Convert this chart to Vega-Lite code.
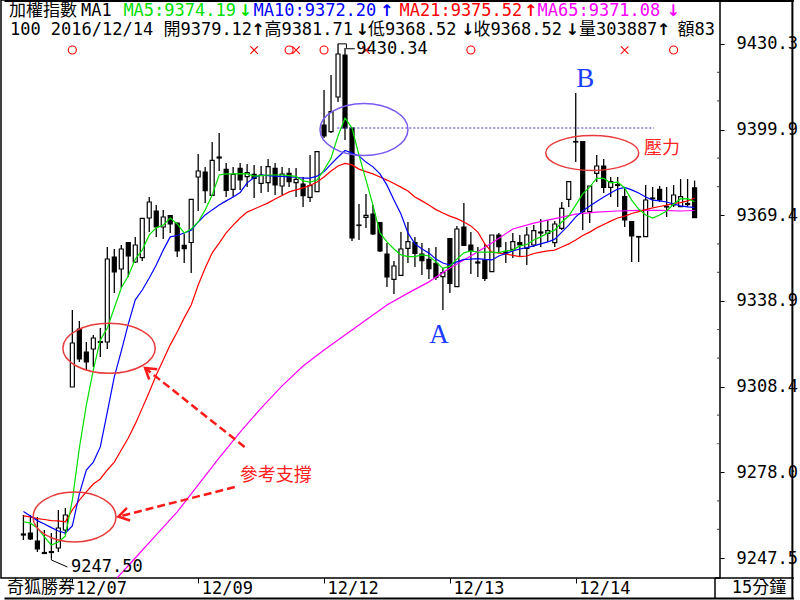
{
  "$schema": "https://vega.github.io/schema/vega-lite/v6.json",
  "width": 719,
  "height": 578,
  "autosize": {"type": "none"},
  "padding": {"left": 1, "top": 0, "right": 80, "bottom": 22},
  "background": "white",
  "config": {"view": {"stroke": "black", "strokeWidth": 1.5}, "axis": {"grid": false}},
  "datasets": {
    "ohlc": [
      {"i":0,"o":9256.03,"h":9262.79,"l":9253.90,"c":9255.68},
      {"i":1,"o":9256.39,"h":9262.79,"l":9253.90,"c":9254.26},
      {"i":2,"o":9253.55,"h":9262.08,"l":9249.63,"c":9250.70},
      {"i":3,"o":9249.46,"h":9257.46,"l":9248.92,"c":9249.10},
      {"i":4,"o":9249.81,"h":9256.39,"l":9247.50,"c":9249.46},
      {"i":5,"o":9251.06,"h":9264.57,"l":9249.63,"c":9258.17},
      {"i":6,"o":9257.46,"h":9265.28,"l":9255.68,"c":9262.79},
      {"i":7,"o":9308.31,"h":9335.69,"l":9308.31,"c":9323.96},
      {"i":8,"o":9328.94,"h":9331.78,"l":9317.20,"c":9318.27},
      {"i":9,"o":9320.76,"h":9324.31,"l":9314.36,"c":9317.20},
      {"i":10,"o":9321.82,"h":9326.80,"l":9315.42,"c":9325.74},
      {"i":11,"o":9324.49,"h":9329.29,"l":9318.98,"c":9324.14},
      {"i":12,"o":9324.31,"h":9358.10,"l":9321.82,"c":9353.83},
      {"i":13,"o":9354.54,"h":9357.39,"l":9341.74,"c":9349.21},
      {"i":14,"o":9350.27,"h":9358.81,"l":9343.52,"c":9357.39},
      {"i":15,"o":9359.70,"h":9359.88,"l":9347.43,"c":9354.90},
      {"i":16,"o":9352.76,"h":9361.65,"l":9352.41,"c":9358.81},
      {"i":17,"o":9354.29,"h":9368.41,"l":9353.12,"c":9368.30},
      {"i":18,"o":9368.41,"h":9375.88,"l":9363.43,"c":9374.10},
      {"i":19,"o":9370.90,"h":9373.03,"l":9361.65,"c":9365.21},
      {"i":20,"o":9365.21,"h":9371.26,"l":9360.94,"c":9368.77},
      {"i":21,"o":9369.30,"h":9369.48,"l":9363.08,"c":9366.28},
      {"i":22,"o":9366.63,"h":9366.74,"l":9354.54,"c":9356.68},
      {"i":23,"o":9358.70,"h":9362.72,"l":9352.41,"c":9357.50},
      {"i":24,"o":9359.70,"h":9375.17,"l":9348.85,"c":9375.06},
      {"i":25,"o":9382.99,"h":9391.17,"l":9370.90,"c":9385.12},
      {"i":26,"o":9384.77,"h":9386.55,"l":9373.75,"c":9378.12},
      {"i":27,"o":9376.48,"h":9395.44,"l":9376.41,"c":9388.93},
      {"i":28,"o":9390.10,"h":9398.64,"l":9385.12,"c":9389.75},
      {"i":29,"o":9385.73,"h":9387.97,"l":9375.88,"c":9378.26},
      {"i":30,"o":9378.62,"h":9386.55,"l":9375.88,"c":9383.95},
      {"i":31,"o":9386.09,"h":9387.97,"l":9378.37,"c":9381.92},
      {"i":32,"o":9383.10,"h":9387.61,"l":9379.44,"c":9384.52},
      {"i":33,"o":9383.95,"h":9387.26,"l":9375.52,"c":9382.53},
      {"i":34,"o":9380.75,"h":9386.90,"l":9377.30,"c":9383.70},
      {"i":35,"o":9380.96,"h":9389.39,"l":9377.66,"c":9386.65},
      {"i":36,"o":9386.09,"h":9387.97,"l":9376.59,"c":9380.15},
      {"i":37,"o":9379.79,"h":9386.55,"l":9376.59,"c":9384.06},
      {"i":38,"o":9384.31,"h":9386.19,"l":9379.44,"c":9381.32},
      {"i":39,"o":9380.96,"h":9386.19,"l":9375.88,"c":9382.17},
      {"i":40,"o":9380.50,"h":9382.99,"l":9372.32,"c":9376.34},
      {"i":41,"o":9375.77,"h":9390.81,"l":9374.10,"c":9379.90},
      {"i":42,"o":9377.76,"h":9391.99,"l":9377.66,"c":9391.99},
      {"i":43,"o":9401.48,"h":9413.93,"l":9396.86,"c":9397.57},
      {"i":44,"o":9399.10,"h":9419.26,"l":9398.64,"c":9406.21},
      {"i":45,"o":9411.44,"h":9430.34,"l":9409.66,"c":9426.73},
      {"i":46,"o":9426.38,"h":9428.87,"l":9396.15,"c":9400.42},
      {"i":47,"o":9400.42,"h":9400.42,"l":9360.23,"c":9361.30},
      {"i":48,"o":9365.92,"h":9373.39,"l":9360.59,"c":9365.74},
      {"i":49,"o":9368.66,"h":9376.95,"l":9364.85,"c":9369.37},
      {"i":50,"o":9369.83,"h":9373.03,"l":9362.37,"c":9362.72},
      {"i":51,"o":9366.81,"h":9366.99,"l":9356.32,"c":9356.68},
      {"i":52,"o":9355.61,"h":9359.52,"l":9343.87,"c":9347.43},
      {"i":53,"o":9346.61,"h":9353.12,"l":9341.38,"c":9351.34},
      {"i":54,"o":9348.03,"h":9363.43,"l":9347.96,"c":9357.39},
      {"i":55,"o":9357.64,"h":9366.99,"l":9352.41,"c":9359.98},
      {"i":56,"o":9359.63,"h":9361.65,"l":9350.99,"c":9355.86},
      {"i":57,"o":9355.61,"h":9359.52,"l":9348.14,"c":9353.23},
      {"i":58,"o":9353.72,"h":9357.74,"l":9346.72,"c":9350.38},
      {"i":59,"o":9352.30,"h":9358.10,"l":9346.36,"c":9347.32},
      {"i":60,"o":9347.54,"h":9350.63,"l":9335.69,"c":9348.96},
      {"i":61,"o":9361.12,"h":9361.30,"l":9341.74,"c":9345.19},
      {"i":62,"o":9343.98,"h":9365.57,"l":9343.87,"c":9364.50},
      {"i":63,"o":9365.21,"h":9373.75,"l":9358.45,"c":9358.63},
      {"i":64,"o":9358.81,"h":9363.43,"l":9348.50,"c":9356.78},
      {"i":65,"o":9352.76,"h":9358.10,"l":9347.43,"c":9352.41},
      {"i":66,"o":9353.47,"h":9359.16,"l":9346.01,"c":9346.97},
      {"i":67,"o":9349.31,"h":9362.37,"l":9349.21,"c":9362.37},
      {"i":68,"o":9362.37,"h":9363.08,"l":9355.96,"c":9358.21},
      {"i":69,"o":9356.32,"h":9359.88,"l":9352.41,"c":9355.96},
      {"i":70,"o":9357.28,"h":9363.08,"l":9354.19,"c":9359.98},
      {"i":71,"o":9359.63,"h":9362.37,"l":9354.54,"c":9358.81},
      {"i":72,"o":9357.64,"h":9365.21,"l":9351.70,"c":9362.37},
      {"i":73,"o":9358.81,"h":9365.92,"l":9358.10,"c":9363.89},
      {"i":74,"o":9363.43,"h":9368.06,"l":9358.10,"c":9363.08},
      {"i":75,"o":9362.97,"h":9367.70,"l":9359.88,"c":9363.89},
      {"i":76,"o":9359.63,"h":9367.34,"l":9358.10,"c":9366.28},
      {"i":77,"o":9364.75,"h":9374.10,"l":9364.14,"c":9371.86},
      {"i":78,"o":9375.06,"h":9381.50,"l":9372.32,"c":9381.32},
      {"i":79,"o":9395.62,"h":9412.86,"l":9388.33,"c":9395.44},
      {"i":80,"o":9395.54,"h":9395.62,"l":9364.14,"c":9370.65},
      {"i":81,"o":9370.65,"h":9379.79,"l":9366.63,"c":9379.79},
      {"i":82,"o":9384.31,"h":9390.81,"l":9381.21,"c":9386.90},
      {"i":83,"o":9386.90,"h":9389.39,"l":9377.30,"c":9379.33},
      {"i":84,"o":9379.33,"h":9382.99,"l":9375.88,"c":9381.32},
      {"i":85,"o":9380.32,"h":9382.99,"l":9372.32,"c":9379.97},
      {"i":86,"o":9375.99,"h":9379.44,"l":9365.21,"c":9367.70},
      {"i":87,"o":9367.10,"h":9367.20,"l":9352.76,"c":9362.01},
      {"i":88,"o":9361.83,"h":9361.90,"l":9352.76,"c":9361.65},
      {"i":89,"o":9361.76,"h":9380.15,"l":9361.65,"c":9374.81},
      {"i":90,"o":9375.52,"h":9379.44,"l":9372.32,"c":9375.27},
      {"i":91,"o":9378.62,"h":9379.79,"l":9374.10,"c":9374.81},
      {"i":92,"o":9372.57,"h":9379.44,"l":9368.77,"c":9372.32},
      {"i":93,"o":9373.03,"h":9380.15,"l":9372.32,"c":9376.59},
      {"i":94,"o":9372.43,"h":9382.28,"l":9372.32,"c":9375.99},
      {"i":95,"o":9373.57,"h":9382.28,"l":9372.32,"c":9373.21},
      {"i":96,"o":9379.12,"h":9381.71,"l":9368.52,"c":9368.52}
    ],
    "ma": [
      {"i":0,"ma5":9260.4,"ma10":9264.0,"ma21":9262.5},
      {"i":1,"ma5":9259.9,"ma10":9262.4,"ma21":9262.1},
      {"i":2,"ma5":9258.2,"ma10":9260.8,"ma21":9261.5},
      {"i":3,"ma5":9255.0,"ma10":9259.6,"ma21":9261.2},
      {"i":4,"ma5":9252.1,"ma10":9258.3,"ma21":9260.8},
      {"i":5,"ma5":9253.2,"ma10":9257.1,"ma21":9260.7},
      {"i":6,"ma5":9255.3,"ma10":9256.4,"ma21":9260.4},
      {"i":7,"ma5":9268.1,"ma10":9258.9,"ma21":9264.6},
      {"i":8,"ma5":9286.6,"ma10":9270.3,"ma21":9268.1},
      {"i":9,"ma5":9301.9,"ma10":9278.8,"ma21":9271.0},
      {"i":10,"ma5":9314.4,"ma10":9281.6,"ma21":9273.8},
      {"i":11,"ma5":9325.0,"ma10":9287.0,"ma21":9275.6},
      {"i":12,"ma5":9329.3,"ma10":9299.4,"ma21":9278.8},
      {"i":13,"ma5":9336.4,"ma10":9311.9,"ma21":9281.6},
      {"i":14,"ma5":9343.5,"ma10":9321.1,"ma21":9285.9},
      {"i":15,"ma5":9347.8,"ma10":9330.7,"ma21":9290.2},
      {"i":16,"ma5":9353.8,"ma10":9339.3,"ma21":9295.2},
      {"i":17,"ma5":9357.0,"ma10":9342.8,"ma21":9300.8},
      {"i":18,"ma5":9362.4,"ma10":9347.1,"ma21":9306.5},
      {"i":19,"ma5":9364.9,"ma10":9351.7,"ma21":9312.6},
      {"i":20,"ma5":9365.9,"ma10":9357.0,"ma21":9317.9},
      {"i":21,"ma5":9368.4,"ma10":9361.7,"ma21":9323.3},
      {"i":22,"ma5":9366.3,"ma10":9362.2,"ma21":9327.9},
      {"i":23,"ma5":9363.1,"ma10":9363.1,"ma21":9332.9},
      {"i":24,"ma5":9364.5,"ma10":9364.1,"ma21":9337.5},
      {"i":25,"ma5":9367.0,"ma10":9367.0,"ma21":9344.6},
      {"i":26,"ma5":9371.3,"ma10":9369.5,"ma21":9350.6},
      {"i":27,"ma5":9376.6,"ma10":9371.3,"ma21":9356.0},
      {"i":28,"ma5":9383.7,"ma10":9373.0,"ma21":9359.5},
      {"i":29,"ma5":9384.1,"ma10":9374.5,"ma21":9363.1},
      {"i":30,"ma5":9384.1,"ma10":9375.9,"ma21":9365.9},
      {"i":31,"ma5":9384.2,"ma10":9377.5,"ma21":9368.4},
      {"i":32,"ma5":9384.1,"ma10":9380.9,"ma21":9370.5},
      {"i":33,"ma5":9383.3,"ma10":9382.8,"ma21":9371.6},
      {"i":34,"ma5":9383.5,"ma10":9383.7,"ma21":9372.7},
      {"i":35,"ma5":9383.7,"ma10":9383.5,"ma21":9373.8},
      {"i":36,"ma5":9383.7,"ma10":9383.3,"ma21":9375.2},
      {"i":37,"ma5":9383.7,"ma10":9383.2,"ma21":9376.4},
      {"i":38,"ma5":9383.5,"ma10":9383.0,"ma21":9377.7},
      {"i":39,"ma5":9383.2,"ma10":9382.9,"ma21":9378.4},
      {"i":40,"ma5":9381.6,"ma10":9382.6,"ma21":9379.1},
      {"i":41,"ma5":9381.2,"ma10":9382.6,"ma21":9380.0},
      {"i":42,"ma5":9381.9,"ma10":9383.3,"ma21":9381.2},
      {"i":43,"ma5":9385.5,"ma10":9384.9,"ma21":9383.0},
      {"i":44,"ma5":9389.7,"ma10":9387.6,"ma21":9385.1},
      {"i":45,"ma5":9397.6,"ma10":9390.1,"ma21":9386.9},
      {"i":46,"ma5":9404.0,"ma10":9392.4,"ma21":9387.8},
      {"i":47,"ma5":9400.4,"ma10":9391.5,"ma21":9387.3},
      {"i":48,"ma5":9390.8,"ma10":9390.5,"ma21":9385.8},
      {"i":49,"ma5":9381.9,"ma10":9388.3,"ma21":9384.9},
      {"i":50,"ma5":9373.0,"ma10":9386.6,"ma21":9384.1},
      {"i":51,"ma5":9363.1,"ma10":9384.1,"ma21":9383.0},
      {"i":52,"ma5":9359.9,"ma10":9380.1,"ma21":9381.9},
      {"i":53,"ma5":9357.4,"ma10":9374.8,"ma21":9380.7},
      {"i":54,"ma5":9355.3,"ma10":9369.8,"ma21":9379.4},
      {"i":55,"ma5":9354.7,"ma10":9363.1,"ma21":9378.0},
      {"i":56,"ma5":9354.7,"ma10":9359.2,"ma21":9375.9},
      {"i":57,"ma5":9355.3,"ma10":9357.4,"ma21":9374.5},
      {"i":58,"ma5":9354.9,"ma10":9356.0,"ma21":9373.0},
      {"i":59,"ma5":9352.8,"ma10":9353.8,"ma21":9371.4},
      {"i":60,"ma5":9350.5,"ma10":9352.4,"ma21":9370.2},
      {"i":61,"ma5":9351.3,"ma10":9351.7,"ma21":9369.1},
      {"i":62,"ma5":9353.8,"ma10":9352.8,"ma21":9368.2},
      {"i":63,"ma5":9356.0,"ma10":9353.7,"ma21":9367.0},
      {"i":64,"ma5":9356.7,"ma10":9353.8,"ma21":9365.6},
      {"i":65,"ma5":9356.3,"ma10":9354.0,"ma21":9363.4},
      {"i":66,"ma5":9356.3,"ma10":9353.7,"ma21":9359.2},
      {"i":67,"ma5":9356.3,"ma10":9353.5,"ma21":9356.3},
      {"i":68,"ma5":9356.1,"ma10":9354.9,"ma21":9355.9},
      {"i":69,"ma5":9356.7,"ma10":9355.8,"ma21":9355.6},
      {"i":70,"ma5":9357.0,"ma10":9356.7,"ma21":9355.1},
      {"i":71,"ma5":9358.5,"ma10":9357.4,"ma21":9354.7},
      {"i":72,"ma5":9359.0,"ma10":9357.9,"ma21":9354.9},
      {"i":73,"ma5":9360.6,"ma10":9358.5,"ma21":9355.8},
      {"i":74,"ma5":9361.7,"ma10":9359.2,"ma21":9356.3},
      {"i":75,"ma5":9363.1,"ma10":9359.9,"ma21":9356.7},
      {"i":76,"ma5":9364.1,"ma10":9360.9,"ma21":9357.0},
      {"i":77,"ma5":9367.0,"ma10":9363.4,"ma21":9358.1},
      {"i":78,"ma5":9369.1,"ma10":9365.9,"ma21":9359.2},
      {"i":79,"ma5":9373.0,"ma10":9368.8,"ma21":9360.6},
      {"i":80,"ma5":9377.0,"ma10":9370.9,"ma21":9362.2},
      {"i":81,"ma5":9379.4,"ma10":9372.7,"ma21":9363.4},
      {"i":82,"ma5":9382.6,"ma10":9374.3,"ma21":9364.9},
      {"i":83,"ma5":9382.5,"ma10":9375.9,"ma21":9366.1},
      {"i":84,"ma5":9380.9,"ma10":9377.3,"ma21":9367.3},
      {"i":85,"ma5":9381.2,"ma10":9378.7,"ma21":9368.4},
      {"i":86,"ma5":9379.1,"ma10":9379.3,"ma21":9369.1},
      {"i":87,"ma5":9374.8,"ma10":9378.4,"ma21":9370.0},
      {"i":88,"ma5":9371.6,"ma10":9377.3,"ma21":9370.7},
      {"i":89,"ma5":9369.5,"ma10":9375.9,"ma21":9371.4},
      {"i":90,"ma5":9368.4,"ma10":9374.8,"ma21":9372.0},
      {"i":91,"ma5":9369.5,"ma10":9374.5,"ma21":9372.5},
      {"i":92,"ma5":9370.9,"ma10":9374.1,"ma21":9373.0},
      {"i":93,"ma5":9373.4,"ma10":9373.4,"ma21":9373.6},
      {"i":94,"ma5":9375.2,"ma10":9372.7,"ma21":9373.9},
      {"i":95,"ma5":9375.3,"ma10":9372.4,"ma21":9374.5},
      {"i":96,"ma5":9374.19,"ma10":9372.20,"ma21":9375.52}
    ],
    "ma65": [
      {"i":10,"v":9229.0},{"i":13,"v":9239.3},{"i":16,"v":9247.5},{"i":19,"v":9255.7},
      {"i":22,"v":9263.9},{"i":25,"v":9273.5},{"i":28,"v":9283.1},{"i":31,"v":9292.3},
      {"i":34,"v":9300.8},{"i":37,"v":9308.7},{"i":40,"v":9315.8},{"i":43,"v":9321.5},
      {"i":46,"v":9326.8},{"i":49,"v":9332.1},{"i":52,"v":9337.5},{"i":55,"v":9341.7},
      {"i":58,"v":9345.7},{"i":61,"v":9350.6},{"i":64,"v":9354.9},{"i":67,"v":9359.5},
      {"i":70,"v":9364.5},{"i":73,"v":9366.6},{"i":76,"v":9368.2},{"i":79,"v":9369.8},
      {"i":82,"v":9370.5},{"i":85,"v":9370.9},{"i":88,"v":9371.1},{"i":91,"v":9371.1},
      {"i":94,"v":9370.9},{"i":96,"v":9371.08}
    ],
    "hdr": [
      {"t":"加權指數","i":-2.07,"p":9442.03,"s":"txt"},
      {"t":"MA1","i":8.23,"p":9442.03,"s":"txt"},
      {"t":"MA5:9374.19","i":14.30,"p":9442.03,"s":"ma5"},
      {"t":"MA10:9372.20","i":32.91,"p":9442.03,"s":"ma10"},
      {"t":"MA21:9375.52","i":53.79,"p":9442.03,"s":"ma21"},
      {"t":"MA65:9371.08","i":73.53,"p":9442.03,"s":"ma65"},
      {"t":"100 2016/12/14 開9379.12","i":-1.93,"p":9435.27,"s":"txt"},
      {"t":"高9381.71","i":34.47,"p":9435.27,"s":"txt"},
      {"t":"低9368.52","i":49.27,"p":9435.27,"s":"txt"},
      {"t":"收9368.52","i":64.36,"p":9435.27,"s":"txt"},
      {"t":"量303887","i":79.46,"p":9435.27,"s":"txt"},
      {"t":"額83","i":93.56,"p":9435.27,"s":"txt"},
      {"t":"9430.34","i":47.6,"p":9428.6,"s":"txt"},
      {"t":"9247.50","i":6.82,"p":9244.41,"s":"txt"},
      {"t":"奇狐勝券","i":-2.35,"p":9236.8,"s":"txt"},
      {"t":"15分鐘","i":101.32,"p":9236.8,"s":"txt"}
    ],
    "hdrArrows": [
      {"t":"↓","i":30.75,"p":9442.03,"s":"ma5"},
      {"t":"↑","i":51.0,"p":9442.03,"s":"ma10"},
      {"t":"↑","i":71.6,"p":9442.03,"s":"ma21"},
      {"t":"↓","i":92.0,"p":9442.03,"s":"ma65"},
      {"t":"↑","i":32.6,"p":9435.27,"s":"txt"},
      {"t":"↓","i":47.5,"p":9435.27,"s":"txt"},
      {"t":"↓","i":62.6,"p":9435.27,"s":"txt"},
      {"t":"↓","i":77.55,"p":9435.27,"s":"txt"},
      {"t":"↑","i":90.6,"p":9435.27,"s":"txt"}
    ],
    "signals": [
      {"i":7,"k":"o"},{"i":33,"k":"x"},{"i":38,"k":"o"},{"i":39,"k":"x"},{"i":43,"k":"o"},
      {"i":49,"k":"x"},{"i":64,"k":"o"},{"i":86,"k":"x"},{"i":93,"k":"o"}
    ],
    "leaders": [
      {"g":"hi","n":1,"i":45,"p":9430.34},
      {"g":"hi","n":2,"i":46.2,"p":9430.34},
      {"g":"hi","n":3,"i":46.2,"p":9428.6},
      {"g":"hi","n":4,"i":47.4,"p":9428.6},
      {"g":"lo","n":1,"i":4,"p":9247.5},
      {"g":"lo","n":2,"i":4,"p":9246.79},
      {"g":"lo","n":3,"i":6.3,"p":9244.3}
    ],
    "arrows": [
      {"i":31.64,"p":9286.97,"i2":17.40,"p2":9315.07},
      {"i":30.23,"p":9272.75,"i2":13.59,"p2":9262.19}
    ],
    "minor": [
      {"p":9257.66},{"p":9267.82},{"p":9288.13},{"p":9298.29},{"p":9318.60},{"p":9328.76},
      {"p":9349.08},{"p":9359.24},{"p":9379.55},{"p":9389.71},{"p":9410.03},{"p":9420.18}
    ]
  },
  "layer": [
    {
      "data": {"name": "ohlc"},
      "mark": {"type": "rule", "color": "black", "strokeWidth": 1.3},
      "encoding": {
        "x": {"field": "i", "type": "quantitative",
          "scale": {"domain": [-2.49, 98.92], "nice": false, "zero": false},
          "axis": {"orient": "bottom", "title": null, "values": [7, 25, 43, 61, 79],
            "labelExpr": "datum.value == 7 ? '12/07' : datum.value == 25 ? '12/09' : datum.value == 43 ? '12/12' : datum.value == 61 ? '12/13' : '12/14'",
            "domain": false, "ticks": true, "tickSize": 5, "tickColor": "black", "tickWidth": 1,
            "labelFont": "DejaVu Sans Mono", "labelFontSize": 17, "labelColor": "black",
            "labelAlign": "left", "labelBaseline": "alphabetic", "labelPadding": 10, "labelOffset": 3,
            "labelFlush": false, "labelOverlap": false, "grid": false}},
        "y": {"field": "l", "type": "quantitative",
          "scale": {"domain": [9240.39, 9445.94], "nice": false, "zero": false},
          "axis": {"orient": "right", "title": null,
            "values": [9247.5, 9277.97, 9308.44, 9338.92, 9369.39, 9399.87, 9430.34],
            "format": ".1f", "domain": false, "tickSize": 4, "tickColor": "black", "tickWidth": 1,
            "labelFont": "DejaVu Sans Mono", "labelFontSize": 17, "labelColor": "black",
            "labelPadding": 12, "labelBaseline": "middle", "labelFlush": false, "labelOverlap": false, "grid": false}},
        "y2": {"field": "h"}
      }
    },
    {
      "data": {"name": "ohlc"},
      "mark": {"type": "bar", "size": 4, "stroke": "black", "strokeWidth": 1.2},
      "encoding": {
        "x": {"field": "i", "type": "quantitative"},
        "y": {"field": "o", "type": "quantitative"},
        "y2": {"field": "c"},
        "fill": {"condition": {"test": "datum.c >= datum.o", "value": "white"}, "value": "black"}
      }
    },
    {
      "data": {"name": "ma65"},
      "mark": {"type": "line", "color": "#ff00ff", "strokeWidth": 1.2, "clip": true},
      "encoding": {"x": {"field": "i", "type": "quantitative"}, "y": {"field": "v", "type": "quantitative"}}
    },
    {
      "data": {"name": "ma"},
      "mark": {"type": "line", "color": "#ff0000", "strokeWidth": 1.2, "clip": true},
      "encoding": {"x": {"field": "i", "type": "quantitative"}, "y": {"field": "ma21", "type": "quantitative"}}
    },
    {
      "data": {"name": "ma"},
      "mark": {"type": "line", "color": "#0000ff", "strokeWidth": 1.2, "clip": true},
      "encoding": {"x": {"field": "i", "type": "quantitative"}, "y": {"field": "ma10", "type": "quantitative"}}
    },
    {
      "data": {"name": "ma"},
      "mark": {"type": "line", "color": "#00e000", "strokeWidth": 1.2, "clip": true},
      "encoding": {"x": {"field": "i", "type": "quantitative"}, "y": {"field": "ma5", "type": "quantitative"}}
    },
    {
      "data": {"values": [{"a": 1}]},
      "mark": {"type": "rule", "color": "#3a2cc8", "strokeWidth": 1, "strokeDash": [2, 2]},
      "encoding": {"x": {"datum": 44.9}, "x2": {"datum": 90.2}, "y": {"datum": 9400.42}}
    },
    {
      "data": {"values": [{"a": 1}]},
      "mark": {"type": "point", "shape": "M-1,0C-1,-0.326,-0.552,-0.591,0,-0.591C0.552,-0.591,1,-0.326,1,0C1,0.326,0.552,0.591,0,0.591C-0.552,0.591,-1,0.326,-1,0Z", "size": 7744, "filled": false, "stroke": "#7a5af0", "strokeWidth": 1.5, "opacity": 1},
      "encoding": {"x": {"datum": 48.71}, "y": {"datum": 9399.88}}
    },
    {
      "data": {"values": [{"a": 1}]},
      "mark": {"type": "point", "shape": "M-1,0C-1,-0.208,-0.552,-0.376,0,-0.376C0.552,-0.376,1,-0.208,1,0C1,0.208,0.552,0.376,0,0.376C-0.552,0.376,-1,0.208,-1,0Z", "size": 8649, "filled": false, "stroke": "#e83a3a", "strokeWidth": 1.5, "opacity": 1},
      "encoding": {"x": {"datum": 81.36}, "y": {"datum": 9391.53}}
    },
    {
      "data": {"values": [{"a": 1}]},
      "mark": {"type": "point", "shape": "M-1,0C-1,-0.332,-0.552,-0.602,0,-0.602C0.552,-0.602,1,-0.332,1,0C1,0.332,0.552,0.602,0,0.602C-0.552,0.602,-1,0.332,-1,0Z", "size": 6889, "filled": false, "stroke": "#e83a3a", "strokeWidth": 1.5, "opacity": 1},
      "encoding": {"x": {"datum": 7.31}, "y": {"datum": 9262.08}}
    },
    {
      "data": {"values": [{"a": 1}]},
      "mark": {"type": "point", "shape": "M-1,0C-1,-0.299,-0.552,-0.541,0,-0.541C0.552,-0.541,1,-0.299,1,0C1,0.299,0.552,0.541,0,0.541C-0.552,0.541,-1,0.299,-1,0Z", "size": 8538, "filled": false, "stroke": "#e83a3a", "strokeWidth": 1.5, "opacity": 1},
      "encoding": {"x": {"datum": 12.25}, "y": {"datum": 9322.07}}
    },
    {
      "data": {"name": "arrows"},
      "mark": {"type": "rule", "color": "#ff1a1a", "strokeWidth": 2.5, "strokeDash": [8, 4]},
      "encoding": {
        "x": {"field": "i", "type": "quantitative"}, "y": {"field": "p", "type": "quantitative"},
        "x2": {"field": "i2"}, "y2": {"field": "p2"}
      }
    },
    {
      "data": {"values": [{"a": 1}]},
      "mark": {"type": "point", "shape": "M1.6,-1L0,0L1.6,1", "size": 169, "filled": false, "stroke": "#ff1a1a", "strokeWidth": 2.5, "angle": 38, "opacity": 1},
      "encoding": {"x": {"datum": 17.40}, "y": {"datum": 9315.07}}
    },
    {
      "data": {"values": [{"a": 1}]},
      "mark": {"type": "point", "shape": "M1.6,-1L0,0L1.6,1", "size": 169, "filled": false, "stroke": "#ff1a1a", "strokeWidth": 2.5, "angle": 346, "opacity": 1},
      "encoding": {"x": {"datum": 13.59}, "y": {"datum": 9262.19}}
    },
    {
      "data": {"name": "signals"},
      "transform": [{"filter": "datum.k == 'o'"}],
      "mark": {"type": "point", "shape": "circle", "size": 64, "filled": false, "stroke": "#ff0000", "strokeWidth": 1.1, "opacity": 1},
      "encoding": {"x": {"field": "i", "type": "quantitative"}, "y": {"datum": 9428.15}}
    },
    {
      "data": {"name": "signals"},
      "transform": [{"filter": "datum.k == 'x'"}],
      "mark": {"type": "point", "shape": "M-1,-1L1,1M-1,1L1,-1", "size": 56, "filled": false, "stroke": "#ff0000", "strokeWidth": 1.1, "opacity": 1},
      "encoding": {"x": {"field": "i", "type": "quantitative"}, "y": {"datum": 9428.15}}
    },
    {
      "data": {"name": "leaders"},
      "mark": {"type": "line", "color": "black", "strokeWidth": 1},
      "encoding": {
        "x": {"field": "i", "type": "quantitative"}, "y": {"field": "p", "type": "quantitative"},
        "detail": {"field": "g"}, "order": {"field": "n"}
      }
    },
    {
      "data": {"name": "hdr"},
      "mark": {"type": "text", "align": "left", "baseline": "middle", "font": "DejaVu Sans Mono, Noto Sans CJK TC", "fontSize": 17},
      "encoding": {
        "x": {"field": "i", "type": "quantitative"}, "y": {"field": "p", "type": "quantitative"},
        "text": {"field": "t"},
        "color": {"field": "s", "type": "nominal", "legend": null,
          "scale": {"domain": ["txt", "ma5", "ma10", "ma21", "ma65"], "range": ["#000000", "#00e000", "#0000ff", "#ff0000", "#ff00ff"]}}
      }
    },
    {
      "data": {"name": "hdrArrows"},
      "mark": {"type": "text", "align": "left", "baseline": "middle", "font": "DejaVu Sans", "fontSize": 16, "fontWeight": "bold"},
      "encoding": {
        "x": {"field": "i", "type": "quantitative"}, "y": {"field": "p", "type": "quantitative"},
        "text": {"field": "t"},
        "color": {"field": "s", "type": "nominal", "legend": null,
          "scale": {"domain": ["txt", "ma5", "ma10", "ma21", "ma65"], "range": ["#000000", "#00e000", "#0000ff", "#ff0000", "#ff00ff"]}}
      }
    },
    {
      "data": {"values": [{"t": "A", "i": 59.43, "p": 9326.8}, {"t": "B", "i": 80.37, "p": 9417.8}]},
      "mark": {"type": "text", "align": "center", "baseline": "middle", "font": "Liberation Serif", "fontSize": 27, "color": "#1a3cff"},
      "encoding": {"x": {"field": "i", "type": "quantitative"}, "y": {"field": "p", "type": "quantitative"}, "text": {"field": "t"}}
    },
    {
      "data": {"values": [{"t": "壓力", "i": 88.77, "p": 9392.95}, {"t": "參考支撐", "i": 30.94, "p": 9276.66}]},
      "mark": {"type": "text", "align": "left", "baseline": "middle", "font": "Noto Sans CJK TC", "fontSize": 18, "color": "#ff2020"},
      "encoding": {"x": {"field": "i", "type": "quantitative"}, "y": {"field": "p", "type": "quantitative"}, "text": {"field": "t"}}
    },
    {
      "data": {"name": "minor"},
      "mark": {"type": "point", "shape": "square", "size": 1.5, "filled": true, "color": "black", "opacity": 1},
      "encoding": {"x": {"datum": 99.35}, "y": {"field": "p", "type": "quantitative"}}
    },
    {
      "data": {"values": [{"a": 1}]},
      "mark": {"type": "rule", "color": "black", "strokeWidth": 1.5},
      "encoding": {"x": {"datum": 98.92}, "x2": {"datum": 110.2}, "y": {"datum": 9240.39}}
    },
    {
      "data": {"values": [{"a": 1}]},
      "mark": {"type": "rule", "color": "black", "strokeWidth": 1.5},
      "encoding": {"x": {"datum": 98.92}, "y": {"datum": 9240.39}, "y2": {"datum": 9232.9}}
    },
    {
      "data": {"values": [{"a": 1}]},
      "mark": {"type": "rule", "color": "black", "strokeWidth": 2},
      "encoding": {"x": {"datum": 109.99}, "y": {"datum": 9446.3}, "y2": {"datum": 9232.9}}
    },
    {
      "data": {"values": [{"a": 1}]},
      "mark": {"type": "rule", "color": "black", "strokeWidth": 2},
      "encoding": {"x": {"datum": -2.7}, "x2": {"datum": 110.2}, "y": {"datum": 9233.1}}
    },
    {
      "data": {"values": [{"a": 1}]},
      "mark": {"type": "rule", "color": "black", "strokeWidth": 2},
      "encoding": {"x": {"datum": -2.7}, "x2": {"datum": 110.2}, "y": {"datum": 9445.6}}
    }
  ]
}
